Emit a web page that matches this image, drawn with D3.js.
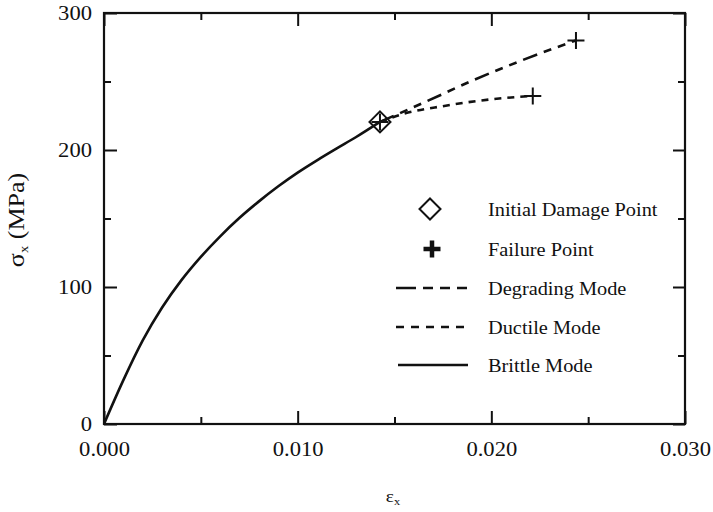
<!DOCTYPE html>
<html>
<head>
<meta charset="utf-8">
<script src="https://cdn.jsdelivr.net/npm/d3@7"></script>
<style>
  html, body { margin: 0; padding: 0; background: #fff; }
  text { font-family: "Liberation Serif", "Times New Roman", serif; fill: #111; }
</style>
</head>
<body>
<svg id="chart" width="713" height="512"></svg>
<script>
// ---- data ----
const brittleEps = [0, 0.001, 0.002, 0.003, 0.004, 0.005, 0.006, 0.007, 0.008, 0.009, 0.010, 0.011, 0.012, 0.013, 0.01425];
const brittleSig = [0, 32, 61, 85, 105, 122, 137, 150.5, 162.5, 173.5, 183.5, 192.5, 201, 209.3, 220.5];
const degradingEps = [0.01425, 0.0165, 0.019, 0.0215, 0.02437];
const degradingSig = [220.5, 234.5, 250.5, 265, 280];
const ductileEps = [0.01425, 0.0155, 0.0175, 0.020, 0.02214];
const ductileSig = [220.5, 226.5, 232, 237, 239.5];
const damageEps = [0.01425];
const damageSig = [220.5];
const failureEps = [0.01425, 0.02437, 0.02214];
const failureSig = [220.5, 280, 239.5];
const xMajorTicks = [0, 0.010, 0.020, 0.030];
const xMinorTicks = [0.005, 0.015, 0.025];
const xTickLabels = ["0.000", "0.010", "0.020", "0.030"];
const yMajorTicks = [0, 100, 200, 300];
const yMinorTicks = [50, 150, 250];
const yTickLabels = ["0", "100", "200", "300"];
const legendLabels = ["Initial Damage Point", "Failure Point", "Degrading Mode", "Ductile Mode", "Brittle Mode"];

// ---- layout ----
const svg = d3.select("#chart");
const L = 104, R = 685, T = 13, B = 424;
const x = d3.scaleLinear().domain([0, 0.03]).range([L, R]);
const y = d3.scaleLinear().domain([0, 300]).range([B, T]);
const STRETCH = 1.13;

function stretch(sel) {
  sel.each(function () {
    const len = this.getComputedTextLength();
    d3.select(this).attr("textLength", len * STRETCH).attr("lengthAdjust", "spacingAndGlyphs");
  });
}

// axes (inward ticks on all four sides)
function styleAxis(g) {
  g.select(".domain").remove();
  g.selectAll(".tick line").attr("stroke", "#111").attr("stroke-width", 2);
}
const fmtX = (d) => xTickLabels[xMajorTicks.indexOf(d)];
const fmtY = (d) => yTickLabels[yMajorTicks.indexOf(d)];

const bottomMajor = svg.append("g").attr("transform", `translate(0,${B})`)
  .call(d3.axisBottom(x).tickValues(xMajorTicks).tickFormat(fmtX).tickSizeInner(-13).tickSizeOuter(0).tickPadding(18));
styleAxis(bottomMajor);
bottomMajor.selectAll("text").attr("font-size", 20).attr("font-family", "Liberation Serif").attr("fill", "#111");
svg.append("g").attr("transform", `translate(0,${B})`)
  .call(d3.axisBottom(x).tickValues(xMinorTicks).tickFormat("").tickSizeInner(-7).tickSizeOuter(0)).call(styleAxis);
svg.append("g").attr("transform", `translate(0,${T})`)
  .call(d3.axisTop(x).tickValues(xMajorTicks).tickFormat("").tickSizeInner(-13).tickSizeOuter(0)).call(styleAxis);
svg.append("g").attr("transform", `translate(0,${T})`)
  .call(d3.axisTop(x).tickValues(xMinorTicks).tickFormat("").tickSizeInner(-7).tickSizeOuter(0)).call(styleAxis);

const leftMajor = svg.append("g").attr("transform", `translate(${L},0)`)
  .call(d3.axisLeft(y).tickValues(yMajorTicks).tickFormat(fmtY).tickSizeInner(-13).tickSizeOuter(0).tickPadding(12));
styleAxis(leftMajor);
leftMajor.selectAll("text").attr("font-size", 20).attr("font-family", "Liberation Serif").attr("fill", "#111");
svg.append("g").attr("transform", `translate(${L},0)`)
  .call(d3.axisLeft(y).tickValues(yMinorTicks).tickFormat("").tickSizeInner(-7).tickSizeOuter(0)).call(styleAxis);
svg.append("g").attr("transform", `translate(${R},0)`)
  .call(d3.axisRight(y).tickValues(yMajorTicks).tickFormat("").tickSizeInner(-12).tickSizeOuter(0)).call(styleAxis);
svg.append("g").attr("transform", `translate(${R},0)`)
  .call(d3.axisRight(y).tickValues(yMinorTicks).tickFormat("").tickSizeInner(-7).tickSizeOuter(0)).call(styleAxis);

// frame
svg.append("rect").attr("x", L).attr("y", T).attr("width", R - L).attr("height", B - T)
  .attr("fill", "none").attr("stroke", "#111").attr("stroke-width", 2.2);

// axis titles
const yTitle = svg.append("text").attr("transform", `translate(24,220) rotate(-90)`)
  .attr("text-anchor", "middle").attr("font-size", 23);
yTitle.append("tspan").text("σ");
yTitle.append("tspan").attr("font-size", 13).attr("dy", 4).text("x");
yTitle.append("tspan").attr("dy", -4).text(" (MPa)");

const xTitle = svg.append("text").attr("x", 393).attr("y", 502).attr("text-anchor", "middle").attr("font-size", 17);
xTitle.append("tspan").text("ε");
xTitle.append("tspan").attr("font-size", 11).attr("dy", 3).text("x");

// curves
const line = d3.line().x(d => x(d[0])).y(d => y(d[1])).curve(d3.curveMonotoneX);
const zip = (a, b) => a.map((v, i) => [v, b[i]]);

svg.append("path").datum(zip(brittleEps, brittleSig)).attr("d", line)
  .attr("fill", "none").attr("stroke", "#111").attr("stroke-width", 2.6);
svg.append("path").datum(zip(degradingEps, degradingSig)).attr("d", line)
  .attr("fill", "none").attr("stroke", "#111").attr("stroke-width", 2.6).attr("stroke-dasharray", "15,7,8,7,8,7");
svg.append("path").datum(zip(ductileEps, ductileSig)).attr("d", line)
  .attr("fill", "none").attr("stroke", "#111").attr("stroke-width", 2.6).attr("stroke-dasharray", "7,6");

// markers
const diamondPath = (cx, cy, r) => `M${cx},${cy - r}L${cx + r},${cy}L${cx},${cy + r}L${cx - r},${cy}Z`;
const plusPath = (cx, cy, r) => `M${cx - r},${cy}H${cx + r}M${cx},${cy - r}V${cy + r}`;

svg.selectAll(".dmg").data(zip(damageEps, damageSig)).enter().append("path")
  .attr("d", d => diamondPath(x(d[0]), y(d[1]), 10.5))
  .attr("fill", "none").attr("stroke", "#111").attr("stroke-width", 2);
svg.selectAll(".fail").data(zip(failureEps, failureSig)).enter().append("path")
  .attr("d", d => plusPath(x(d[0]), y(d[1]), 8.5))
  .attr("fill", "none").attr("stroke", "#111").attr("stroke-width", 2);

// legend
const legY = [209, 249, 288, 327, 365];
const lx1 = 396, lx2 = 467, tx = 488;
svg.append("path").attr("d", diamondPath(430, legY[0], 10.5))
  .attr("fill", "#fff").attr("stroke", "#111").attr("stroke-width", 2);
svg.append("path").attr("d", plusPath(432, legY[1], 8.5))
  .attr("fill", "none").attr("stroke", "#111").attr("stroke-width", 4.5);
svg.append("line").attr("x1", lx1).attr("x2", lx2).attr("y1", legY[2]).attr("y2", legY[2])
  .attr("stroke", "#111").attr("stroke-width", 2.6).attr("stroke-dasharray", "20,7,10,7,10,7,10");
svg.append("line").attr("x1", lx1).attr("x2", lx2).attr("y1", legY[3]).attr("y2", legY[3])
  .attr("stroke", "#111").attr("stroke-width", 2.6).attr("stroke-dasharray", "8,7");
svg.append("line").attr("x1", lx1 + 2).attr("x2", lx2 + 1).attr("y1", legY[4]).attr("y2", legY[4])
  .attr("stroke", "#111").attr("stroke-width", 2.6);

svg.selectAll(".legtext").data(legendLabels).enter().append("text")
  .attr("x", tx).attr("y", (d, i) => legY[i] + 7).attr("font-size", 18).text(d => d);

// horizontal stretch of the text to match the reference
stretch(svg.selectAll("text"));
</script>
</body>
</html>
